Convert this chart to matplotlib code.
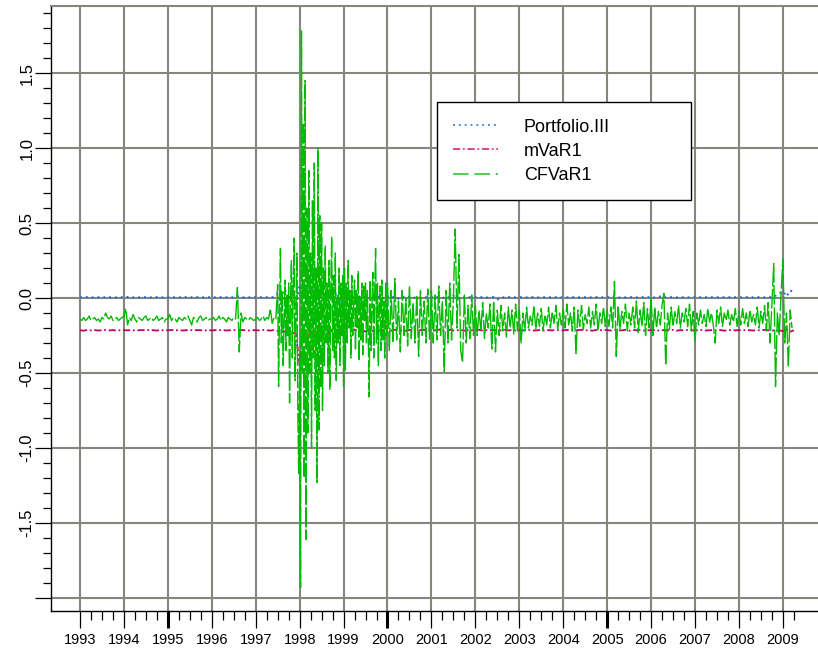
import numpy as np
import matplotlib
matplotlib.use("Agg")
import matplotlib.pyplot as plt

# CFVaR1, semi-monthly values 1993.0 .. 1997.5
cfvar_1993 = [-0.14, -0.15, -0.13, -0.15, -0.14, -0.12, -0.15, -0.14, -0.13, -0.15, -0.14, -0.16,
              -0.13, -0.14, -0.10, -0.13, -0.14, -0.12, -0.15, -0.14, -0.13, -0.15, -0.14, -0.13]
cfvar_1994 = [-0.12, -0.07, -0.18, -0.13, -0.15, -0.11, -0.14, -0.16, -0.13, -0.14, -0.15, -0.13,
              -0.12, -0.15, -0.14, -0.13, -0.15, -0.14, -0.12, -0.15, -0.14, -0.13, -0.16, -0.14]
cfvar_1995 = [-0.14, -0.11, -0.15, -0.13, -0.14, -0.16, -0.13, -0.14, -0.15, -0.13, -0.14, -0.12,
              -0.15, -0.18, -0.13, -0.14, -0.16, -0.13, -0.12, -0.15, -0.14, -0.13, -0.15, -0.14]
cfvar_1996 = [-0.14, -0.13, -0.15, -0.14, -0.12, -0.15, -0.13, -0.14, -0.16, -0.13, -0.14, -0.15,
              -0.13, -0.14, 0.07, -0.36, -0.10, -0.16, -0.13, -0.14, -0.15, -0.13, -0.14, -0.15]
cfvar_1997a = [-0.14, -0.13, -0.15, -0.14, -0.12, -0.15, -0.13, -0.14, -0.07, -0.17, -0.13, -0.14]

# CFVaR1, quarter-monthly values 1997.5 .. 2000.0 (the volatile stretch)
cfvar_1997b = [0.09, -0.59, -0.10, 0.33, -0.30, 0.05, -0.45, -0.15, 0.12, -0.35, 0.02, -0.25,
               0.10, -0.70, -0.05, 0.25, -0.40, 0.08, 0.40, -0.55, -0.10, 0.30, -0.75, -1.17]
cfvar_1998a = [-0.40, -1.93, 1.78, -0.50, 1.17, -1.20, 1.45, -1.61, 0.60, -0.90, 0.85, -0.50,
               0.30, -1.00, 0.65, -0.40, 0.90, -0.75, 0.20, -1.23, 1.00, -0.88, 0.55, -0.60]
cfvar_1998b = [0.50, -0.75, 0.20, -0.45, 0.35, -0.30, 0.10, -0.50, 0.25, -0.61, 0.05, 0.41,
               -0.35, 0.15, -0.40, 0.30, -0.55, 0.00, -0.30, 0.20, -0.45, 0.10, -0.25, 0.15]
cfvar_1999a = [-0.59, 0.20, -0.48, 0.10, -0.30, 0.25, -0.20, 0.05, -0.40, 0.15, -0.25, -0.05,
               0.12, -0.35, 0.05, -0.20, 0.18, -0.42, 0.00, -0.28, 0.10, -0.38, 0.08, -0.15]
cfvar_1999b = [0.10, -0.30, 0.05, -0.25, -0.66, 0.12, -0.35, -0.05, 0.17, -0.40, 0.02, 0.33,
               -0.30, 0.10, -0.45, -0.05, 0.08, -0.35, 0.12, -0.28, -0.02, -0.40, 0.10, -0.25]

# CFVaR1, semi-monthly values 2000.0 .. 2009.2
cfvar_2000 = [0.10, -0.35, 0.05, -0.30, 0.13, -0.28, -0.02, -0.36, 0.05, -0.25, 0.00, -0.32,
              0.08, -0.27, -0.03, -0.30, 0.02, -0.39, 0.05, -0.25, -0.02, -0.30, 0.06, -0.28]
cfvar_2001 = [0.05, -0.30, 0.02, -0.28, 0.08, -0.25, -0.02, -0.49, 0.05, -0.30, 0.10, -0.28,
              0.00, 0.46, -0.20, 0.29, -0.35, -0.43, 0.02, -0.30, -0.05, -0.27, 0.02, -0.25]
cfvar_2002 = [-0.05, -0.25, -0.08, -0.22, -0.03, -0.27, -0.10, -0.20, -0.04, -0.34, -0.02, -0.36,
              -0.08, -0.25, -0.05, -0.22, -0.10, -0.26, -0.06, -0.20, -0.08, -0.24, -0.04, -0.22]
cfvar_2003 = [-0.08, -0.30, -0.10, -0.22, -0.06, -0.20, -0.12, -0.18, -0.05, -0.21, -0.10, -0.19,
              -0.07, -0.22, -0.11, -0.18, -0.06, -0.20, -0.09, -0.17, -0.05, -0.21, -0.10, -0.18]
cfvar_2004 = [-0.07, -0.20, -0.04, -0.18, -0.10, -0.22, -0.06, -0.37, -0.08, -0.19, -0.05, -0.21,
              -0.11, -0.17, -0.06, -0.20, -0.09, -0.18, -0.04, -0.22, -0.10, -0.17, -0.06, -0.19]
cfvar_2005 = [-0.08, -0.19, -0.06, -0.20, 0.11, -0.39, -0.05, -0.21, -0.09, -0.17, -0.04, -0.22,
              -0.10, -0.18, -0.06, -0.20, -0.02, -0.23, -0.08, -0.19, -0.03, -0.25, -0.07, -0.20]
cfvar_2006 = [0.00, -0.25, -0.06, -0.20, -0.09, -0.18, -0.05, 0.03, -0.45, -0.10, -0.21, -0.06,
              -0.19, -0.09, -0.17, -0.05, -0.20, -0.10, -0.16, -0.07, -0.19, -0.04, -0.22, -0.09]
cfvar_2007 = [-0.29, -0.10, -0.18, -0.08, -0.17, -0.11, -0.19, -0.07, -0.16, -0.10, -0.18, -0.30,
              -0.08, -0.17, -0.06, -0.19, -0.10, -0.15, -0.08, -0.18, -0.11, -0.16, -0.07, -0.19]
cfvar_2008 = [-0.09, -0.18, -0.07, -0.17, -0.10, -0.19, -0.08, -0.16, -0.11, -0.18, -0.06, -0.20,
              -0.09, -0.17, -0.05, -0.22, -0.03, -0.30, -0.05, 0.23, -0.59, -0.10, -0.25, 0.02]
cfvar_2009 = [0.26, -0.30, -0.10, -0.46, -0.08, -0.20]

# monthly Portfolio.III and mVaR1 values, 1993.0 .. 2009.25
portfolio = [
    0.005, 0.004, 0.006, 0.005, 0.003, 0.005, 0.006, 0.004, 0.005, 0.005, 0.004, 0.006,
    0.004, 0.007, 0.003, 0.005, 0.004, 0.006, 0.005, 0.004, 0.005, 0.006, 0.004, 0.005,
    0.006, 0.004, 0.005, 0.005, 0.003, 0.006, 0.004, 0.005, 0.006, 0.004, 0.005, 0.005,
    0.005, 0.004, 0.006, 0.004, 0.005, 0.006, 0.004, 0.012, 0.003, 0.005, 0.004, 0.006,
    0.005, 0.004, 0.006, 0.005, 0.004, 0.007, 0.030, -0.040, 0.060, -0.030, 0.080, -0.060,
    0.090, -0.080, 0.100, -0.050, 0.060, -0.040, 0.070, -0.030, 0.050, -0.020, 0.040, -0.030,
    0.030, -0.020, 0.040, -0.015, 0.020, -0.010, 0.025, -0.010, 0.020, 0.000, 0.015, -0.005,
    0.012, 0.000, 0.010, -0.005, 0.008, 0.002, 0.010, 0.000, 0.006, 0.003, 0.008, 0.002,
    0.006, 0.002, 0.008, 0.000, 0.010, 0.002, 0.015, -0.005, 0.006, 0.003, 0.007, 0.004,
    0.005, 0.004, 0.006, 0.003, 0.005, 0.006, -0.010, 0.005, 0.004, 0.006, 0.005, 0.004,
    0.005, 0.006, 0.004, 0.005, 0.006, 0.004, 0.005, 0.005, 0.004, 0.006, 0.005, 0.004,
    0.005, 0.004, 0.006, 0.005, 0.004, 0.006, 0.005, 0.004, 0.005, 0.006, 0.004, 0.005,
    0.006, 0.004, 0.012, 0.003, 0.005, 0.004, 0.006, 0.005, 0.004, 0.005, 0.006, 0.004,
    0.008, 0.003, 0.006, 0.015, 0.004, 0.005, 0.006, 0.004, 0.005, 0.005, 0.004, 0.006,
    0.005, 0.004, 0.006, 0.005, 0.004, 0.006, 0.005, 0.004, 0.005, 0.006, 0.004, 0.005,
    0.005, 0.004, 0.006, 0.005, 0.004, 0.006, 0.005, 0.004, 0.008, 0.003, 0.015, 0.030,
    0.045, 0.010, 0.050, 0.040]

mvar = [
    -0.215, -0.218, -0.213, -0.216, -0.214, -0.217, -0.215, -0.213, -0.216, -0.214, -0.217, -0.215,
    -0.214, -0.216, -0.213, -0.217, -0.215, -0.214, -0.216, -0.213, -0.215, -0.217, -0.214, -0.216,
    -0.215, -0.213, -0.216, -0.214, -0.217, -0.215, -0.213, -0.216, -0.214, -0.215, -0.217, -0.214,
    -0.216, -0.214, -0.215, -0.213, -0.217, -0.215, -0.214, -0.216, -0.213, -0.215, -0.217, -0.214,
    -0.215, -0.216, -0.213, -0.215, -0.217, -0.214, -0.220, -0.210, -0.225, -0.205, -0.230, -0.240,
    -0.450, -0.200, -0.300, -0.190, -0.260, -0.200, -0.240, -0.205, -0.235, -0.210, -0.228, -0.205,
    -0.225, -0.208, -0.222, -0.210, -0.220, -0.212, -0.224, -0.209, -0.221, -0.213, -0.219, -0.211,
    -0.214, -0.218, -0.212, -0.216, -0.213, -0.219, -0.214, -0.211, -0.217, -0.215, -0.212, -0.218,
    -0.213, -0.216, -0.211, -0.219, -0.214, -0.212, -0.217, -0.215, -0.213, -0.218, -0.214, -0.216,
    -0.215, -0.212, -0.217, -0.214, -0.216, -0.213, -0.218, -0.215, -0.212, -0.216, -0.214, -0.217,
    -0.213, -0.216, -0.214, -0.212, -0.217, -0.215, -0.213, -0.218, -0.214, -0.216, -0.212, -0.215,
    -0.216, -0.213, -0.215, -0.217, -0.214, -0.212, -0.216, -0.215, -0.218, -0.213, -0.215, -0.214,
    -0.214, -0.217, -0.213, -0.215, -0.216, -0.212, -0.218, -0.214, -0.215, -0.213, -0.217, -0.215,
    -0.215, -0.213, -0.217, -0.214, -0.216, -0.215, -0.212, -0.218, -0.214, -0.216, -0.213, -0.215,
    -0.216, -0.214, -0.212, -0.217, -0.215, -0.213, -0.216, -0.214, -0.218, -0.215, -0.213, -0.216,
    -0.214, -0.216, -0.213, -0.215, -0.217, -0.214, -0.216, -0.212, -0.215, -0.218, -0.214, -0.216,
    -0.220, -0.210, -0.225, -0.215]

years = list(range(1993, 2010))
yticks = [-2.0, -1.5, -1.0, -0.5, 0.0, 0.5, 1.0, 1.5]
ytick_labels = ["", "-1.5", "-1.0", "-0.5", "0.0", "0.5", "1.0", "1.5"]
series_names = ["Portfolio.III", "mVaR1", "CFVaR1"]

seg_a = cfvar_1993 + cfvar_1994 + cfvar_1995 + cfvar_1996 + cfvar_1997a
seg_b = cfvar_1997b + cfvar_1998a + cfvar_1998b + cfvar_1999a + cfvar_1999b
seg_c = (cfvar_2000 + cfvar_2001 + cfvar_2002 + cfvar_2003 + cfvar_2004 + cfvar_2005
         + cfvar_2006 + cfvar_2007 + cfvar_2008 + cfvar_2009)
t_cf = np.concatenate([1993 + np.arange(len(seg_a)) / 24.0,
                       1997.5 + np.arange(len(seg_b)) / 48.0,
                       2000 + np.arange(len(seg_c)) / 24.0])
cfvar = seg_a + seg_b + seg_c
t_month = 1993 + np.arange(len(portfolio)) / 12.0

fig = plt.figure(figsize=(8.18, 6.5), dpi=100)
ax = fig.add_axes([51 / 818, 39 / 650, 767 / 818, 605 / 650])

ax.plot(t_month, portfolio, color="#1e6ad2", lw=1.4, dashes=(1, 2), label=series_names[0])
ax.plot(t_month, mvar, color="#c4006c", lw=1.3, dashes=(4, 1.5, 1, 1.5), label=series_names[1])
ax.plot(t_cf, cfvar, color="#00bb00", lw=1.0, dashes=(14, 2), label=series_names[2])

ax.set_xlim(1992.34, 2009.80)
ax.set_ylim(-2.087, 1.947)

ax.set_xticks(years)
ax.set_xticklabels([str(y) for y in years], family=["Liberation Sans Narrow", "Liberation Sans"],
                   fontsize=10.5)
ax.set_xticks(np.arange(1993, 2009.26, 0.25), minor=True)
ax.set_yticks(yticks)
ax.set_yticklabels(ytick_labels, family="Liberation Sans", fontsize=12, rotation=90, va="center")
ax.set_yticks(np.arange(-2.0, 1.95, 0.1), minor=True)

ax.tick_params(axis="x", which="major", direction="out", length=12, width=0.9, pad=4)
ax.tick_params(axis="x", which="minor", direction="out", length=6.5, width=0.9)
ax.tick_params(axis="y", which="major", direction="out", length=11.5, width=0.9, pad=0.5)
ax.tick_params(axis="y", which="minor", direction="out", length=5.8, width=0.9)
for tk, y in zip(ax.xaxis.get_major_ticks(), years):
    if y in (1995, 2000, 2005):
        tk.tick1line.set_markeredgewidth(2.2)

ax.set_axisbelow(True)
ax.grid(True, which="major", color="#86867e", lw=1.5)

ax.spines["right"].set_visible(False)
ax.spines["top"].set_color("#86867e")
ax.spines["top"].set_linewidth(1.5)
ax.spines["left"].set_linewidth(1.0)
ax.spines["bottom"].set_linewidth(1.0)

leg = ax.legend(loc="upper left", bbox_to_anchor=(437 / 818, 1 - 197 / 650, 254 / 818, 94.5 / 650),
                bbox_transform=fig.transFigure, mode="expand", borderaxespad=0,
                prop={"family": "Liberation Sans", "size": 13}, fancybox=False,
                framealpha=1, edgecolor="black", borderpad=0.9, labelspacing=0.39,
                handlelength=2.5, handletextpad=1.4)
leg.get_frame().set_linewidth(1.0)
leg_lines = leg.get_lines()
leg_lines[0].set_color("#4a8ee0")
leg_lines[1].set_color("#e0338a")
leg_lines[2].set_color("#55cc55")
leg_lines[2].set_linewidth(1.4)
leg_lines[2].set_dashes((8, 3))

fig.savefig("out.png", dpi=100)
